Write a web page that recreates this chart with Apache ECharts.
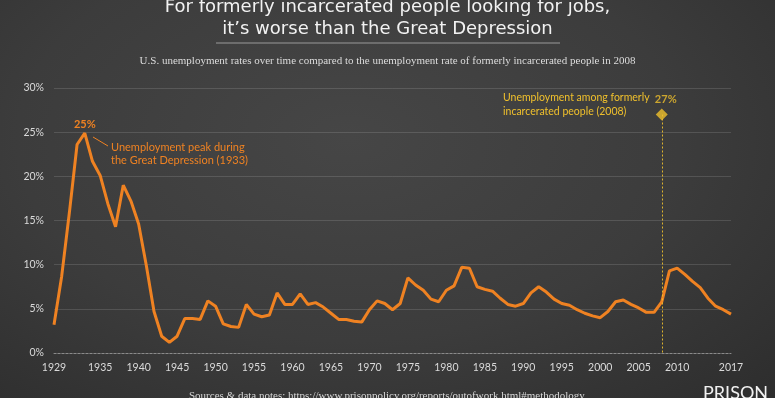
<!DOCTYPE html>
<html>
<head>
<meta charset="utf-8">
<script src="https://cdn.jsdelivr.net/npm/echarts@6/dist/echarts.min.js"></script>
<style>
  html, body { margin: 0; padding: 0; }
  body {
    width: 775px; height: 398px; overflow: hidden;
    background: radial-gradient(ellipse at 45% 35%, #464646 0%, #3c3c3c 55%, #2d2d2d 100%);
  }
  #chart { width: 775px; height: 398px; }
</style>
</head>
<body>
<div id="chart"></div>
<script>
// US unemployment rate (%) per year
const startYear = 1929
const rates = [
  3.2, 8.7, 15.9, 23.6, 24.9, 21.7, 20.1, 16.9, 14.3, 19.0,
  17.2, 14.6, 9.9, 4.7, 1.9, 1.2, 1.9, 3.9, 3.9, 3.8,
  5.9, 5.3, 3.3, 3.0, 2.9, 5.5, 4.4, 4.1, 4.3, 6.8,
  5.5, 5.5, 6.7, 5.5, 5.7, 5.2, 4.5, 3.8, 3.8, 3.6,
  3.5, 4.9, 5.9, 5.6, 4.9, 5.6, 8.5, 7.7, 7.1, 6.1,
  5.8, 7.1, 7.6, 9.7, 9.6, 7.5, 7.2, 7.0, 6.2, 5.5,
  5.3, 5.6, 6.8, 7.5, 6.9, 6.1, 5.6, 5.4, 4.9, 4.5,
  4.2, 4.0, 4.7, 5.8, 6.0, 5.5, 5.1, 4.6, 4.6, 5.8,
  9.3, 9.6, 8.9, 8.1, 7.4, 6.2, 5.3, 4.9, 4.4
]
const years = rates.map((_, i) => String(startYear + i))

const tickYears = ['1929', '1935', '1940', '1945', '1950', '1955', '1960', '1965',
  '1970', '1975', '1980', '1985', '1990', '1995', '2000', '2005', '2010', '2017']

// formerly incarcerated unemployment in 2008
const incarceratedYear = '2008'
const incarceratedRate = 27

const peakYear = '1933'
const peakRate = 24.9

const chart = echarts.init(document.getElementById('chart'))

const orange = '#ef8222'
const yellow = '#f0c02c'
const uiFont = 'Lato'

chart.setOption({
  backgroundColor: 'transparent',
  animation: false,
  title: [
    {
      text: 'For formerly incarcerated people looking for jobs,\nit’s worse than the Great Depression',
      left: 'center',
      top: -9,
      textStyle: { color: '#f2f2f2', fontFamily: 'DejaVu Sans', fontSize: 18, fontWeight: 'normal', lineHeight: 22 }
    },
    {
      text: 'U.S. unemployment rates over time compared to the unemployment rate of formerly incarcerated people in 2008',
      left: 'center',
      top: 51,
      textStyle: { color: '#dcdcdc', fontFamily: 'Liberation Serif', fontSize: 11, fontWeight: 'normal' }
    }
  ],
  grid: { left: 54, right: 44, top: 88, bottom: 45 },
  xAxis: {
    type: 'category',
    data: years,
    boundaryGap: false,
    axisTick: { show: false },
    axisLine: { lineStyle: { color: '#8a8a8a', type: [2, 2], width: 1 } },
    axisLabel: {
      color: '#dadada', fontFamily: uiFont, fontSize: 10.5, margin: 9,
      interval: (idx, val) => tickYears.includes(val)
    }
  },
  yAxis: {
    type: 'value',
    min: 0, max: 30, interval: 5,
    axisLine: { show: false },
    axisTick: { show: false },
    axisLabel: { color: '#dadada', fontFamily: uiFont, fontSize: 10.5, margin: 10, formatter: '{value}%' },
    splitLine: { lineStyle: { color: 'rgba(255,255,255,0.13)', width: 1 } }
  },
  series: [
    {
      type: 'line',
      data: rates,
      symbol: 'none',
      lineStyle: { color: orange, width: 3 },
      markPoint: {
        symbol: 'circle', symbolSize: 0,
        data: [{ coord: [peakYear, peakRate] }],
        label: {
          show: true, position: 'top', distance: 3,
          formatter: '25%', color: orange, fontFamily: uiFont, fontWeight: 'bold', fontSize: 11
        }
      }
    },
    {
      type: 'scatter',
      data: [[incarceratedYear, incarceratedRate]],
      symbol: 'diamond',
      symbolSize: 12,
      itemStyle: { color: yellow },
      label: {
        show: true, position: 'top', distance: 4, offset: [4, 0],
        formatter: '27%', color: yellow, fontFamily: uiFont, fontWeight: 'bold', fontSize: 11
      },
      markLine: {
        silent: true,
        symbol: 'none',
        label: { show: false },
        lineStyle: { color: yellow, type: [2, 2], width: 1, opacity: 0.9 },
        data: [[{ coord: [incarceratedYear, incarceratedRate] }, { coord: [incarceratedYear, 0] }]]
      },
      z: 5
    }
  ],
  graphic: [
    { type: 'line', shape: { x1: 216, y1: 43, x2: 560, y2: 43 }, style: { stroke: '#9a9a9a', lineWidth: 1 } },
    { type: 'line', shape: { x1: 93, y1: 137, x2: 108, y2: 146 }, style: { stroke: orange, lineWidth: 1 } },
    {
      type: 'text', left: 111, top: 141,
      style: {
        text: 'Unemployment peak during\nthe Great Depression (1933)',
        fill: orange, font: '11px Lato', lineHeight: 13
      }
    },
    {
      type: 'text', left: 503, top: 91,
      style: {
        text: 'Unemployment among formerly\nincarcerated people (2008)',
        fill: yellow, font: '10.5px Lato', lineHeight: 14
      }
    },
    {
      type: 'text', left: 189, top: 391,
      style: {
        text: 'Sources & data notes: https://www.prisonpolicy.org/reports/outofwork.html#methodology',
        fill: '#d8d8d8', font: '11px "Liberation Serif"'
      }
    },
    {
      type: 'text', left: 703, top: 384,
      style: { text: 'PRISON', fill: '#f2f2f2', font: '18px Lato' }
    }
  ]
})
</script>
</body>
</html>
